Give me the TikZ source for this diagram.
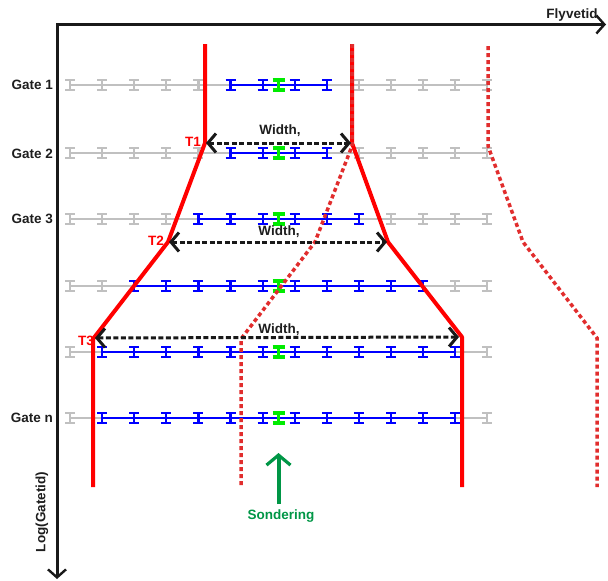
\documentclass[tikz,border=0pt]{standalone}
\usepackage{fontspec}
\setmainfont{Liberation Sans}
\usetikzlibrary{arrows.meta}
\definecolor{ibgray}{RGB}{192,192,192}
\definecolor{ibblue}{RGB}{0,0,255}
\definecolor{ibgreen}{RGB}{0,235,0}
\definecolor{solidred}{RGB}{255,0,0}
\definecolor{dotred}{RGB}{225,45,45}
\definecolor{sondgreen}{RGB}{0,150,70}
\definecolor{txtdark}{RGB}{30,30,30}
\newcommand\ibeammark[3]{%
  \draw[#3,line width=2.2pt] (#1,#2-5)--(#1,#2+5);
  \draw[#3,line width=2.8pt] (#1-5,#2-5)--(#1+5,#2-5) (#1-5,#2+5)--(#1+5,#2+5);}
\newcommand\ibeamgreen[2]{%
  \draw[ibgreen,line width=2.4pt] (#1,#2-5)--(#1,#2+5);
  \draw[ibgreen,line width=3.2pt] (#1-6,#2-5)--(#1+6,#2-5) (#1-6,#2+5)--(#1+6,#2+5);}
\begin{document}
\begin{tikzpicture}[x=1pt,y=-1pt,
  axis/.style={black!90,line width=3pt,-{Straight Barb[length=8pt,width=18pt,line width=2.4pt]}},
  redsolid/.style={solidred,line width=4pt,line join=round},
  reddot/.style={dotred,line width=3.5pt,dash pattern=on 4pt off 3pt},
  widtharrow/.style={black!90,line width=3pt,dash pattern=on 5pt off 2.5pt,
     {Straight Barb[length=8pt,width=19pt,line width=3pt]}-{Straight Barb[length=8pt,width=19pt,line width=3pt]}},
  gatelabel/.style={font=\fontsize{13.5}{15}\selectfont\bfseries,text=txtdark,anchor=east,inner sep=0pt},
  tlabel/.style={font=\fontsize{13.5}{15}\selectfont\bfseries,text=solidred,inner sep=0pt},
  wlabel/.style={font=\fontsize{13.5}{15}\selectfont\bfseries,text=txtdark,inner sep=0pt}]
\useasboundingbox (0,0) rectangle (608,581);

% rows of markers
\foreach \y/\a/\b in {85/5/8,153/5/8,219/4/9,286/2/11,352/1/12,418/1/12}{
  \draw[ibgray,line width=2.5pt] (70,\y)--(487,\y);
  \draw[ibblue,line width=2pt] ({70+32.1*\a},\y)--({70+32.1*\b},\y);
  \foreach \i in {0,...,13}{
    \pgfmathsetmacro\xx{70+32.1*\i}
    \ifnum\i<\a \def\cc{ibgray}\else\ifnum\i>\b \def\cc{ibgray}\else\def\cc{ibblue}\fi\fi
    \ibeammark{\xx}{\y}{\cc}
  }
  \ibeamgreen{278.5}{\y}
}

% key points
\coordinate (L0) at (205,44);
\coordinate (T1) at (205,143);
\coordinate (T2) at (168,242);
\coordinate (T3) at (93,339);
\coordinate (L4) at (93,487);
\coordinate (R0) at (352,44);
\coordinate (T1r) at (352,143);
\coordinate (T2r) at (388,242);
\coordinate (T3r) at (462,337);
\coordinate (R4) at (462,487);
\coordinate (M0) at (352,44);
\coordinate (M1) at (352,146);
\coordinate (M2) at (315,242);
\coordinate (M3) at (241,339);
\coordinate (M4) at (241,487);
\coordinate (D0) at (488,46);
\coordinate (D1) at (488,146);
\coordinate (D2) at (523,242);
\coordinate (D3) at (597,338);
\coordinate (D4) at (597,487);

% red boundaries
\draw[redsolid] (L0)--(T1)--(T2)--(T3)--(L4);
\draw[redsolid] (R0)--(T1r)--(T2r)--(T3r)--(R4);
\draw[reddot] (M0)--(M1)--(M2)--(M3)--(M4);
\draw[reddot] (D0)--(D1)--(D2)--(D3)--(D4);

% width arrows
\coordinate (W1a) at (206,143);
\coordinate (W1b) at (351,143);
\coordinate (W2a) at (169,242);
\coordinate (W2b) at (387,242);
\coordinate (W3a) at (95,338);
\coordinate (W3b) at (459,337);
\draw[widtharrow] (W1a)--(W1b);
\draw[widtharrow] (W2a)--(W2b);
\draw[widtharrow] (W3a)--(W3b);
\node[wlabel] (w1) at (280,131) {Width,};
\node[wlabel] (w2) at (279,232) {Width,};
\node[wlabel] (w3) at (279,330) {Width,};

\node[tlabel] (t1) at (193,142) {T1};
\node[tlabel] (t2) at (156,241) {T2};
\node[tlabel] (t3) at (86,341) {T3};

% axes
\coordinate (O) at (57,24.5);
\coordinate (Xend) at (606,24.5);
\coordinate (Yend) at (57,579);
\draw[axis] (O)--(Xend);
\draw[axis] (O)--(Yend);
\fill[black!90] (55.5,23)rectangle(58.5,26);
\node[font=\fontsize{13.5}{15}\selectfont\bfseries,text=txtdark,inner sep=0pt] (fly) at (572,15) {Flyvetid};
\node[font=\fontsize{13.5}{15}\selectfont\bfseries,text=txtdark,inner sep=0pt,rotate=90] (log) at (42,512) {Log(Gatetid)};

% gate labels
\node[gatelabel] (g1) at (53,85) {Gate 1};
\node[gatelabel] (g2) at (53,154) {Gate 2};
\node[gatelabel] (g3) at (53,219) {Gate 3};
\node[gatelabel] (gn) at (53,418) {Gate n};

% Sondering
\coordinate (S0) at (278.5,504);
\coordinate (S1) at (278.5,453);
\draw[sondgreen,line width=4pt,-{Straight Barb[length=10pt,width=24pt,line width=3.2pt]}] (S0)--(S1);
\node[font=\fontsize{13.5}{15}\selectfont\bfseries,text=sondgreen,inner sep=0pt] (sond) at (281,516) {Sondering};
\end{tikzpicture}
\end{document}
